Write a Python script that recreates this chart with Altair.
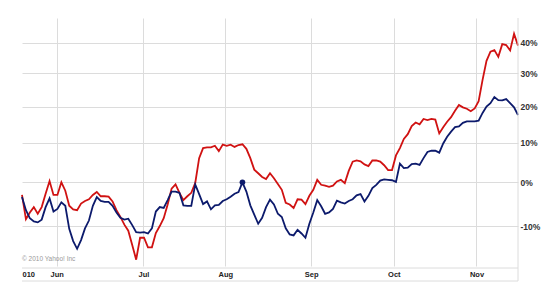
import altair as alt
import pandas as pd

# ---- data (percent change, one value per trading day) ----
days = list(range(127))
red_pct = [-3, -8.5, -7, -5.8, -7.3, -5.8, -2.7, 0.3, -3, -3,
           0, -2, -5.5, -6.3, -6.5, -5, -4.4, -4, -3, -2.3,
           -3.3, -3.3, -3.4, -4.5, -6.5, -8, -9.7, -11, -14, -17,
           -12.5, -12.5, -14.5, -14.5, -11.5, -10, -8.3, -5.2, -1.5, -0.5,
           -2.5, -4.2, -3.3, -2.5, -0.2, 6, 8.6, 8.8, 8.8, 9.2,
           7.8, 9.5, 9.2, 9.5, 8.9, 9.4, 9.6, 8.4, 6, 3.1,
           2.2, 1.3, 0.8, 2.2, 1, -0.4, -1.8, -4.8, -5.2, -6,
           -4, -4.1, -5.1, -3.2, -1.8, 0.6, -0.6, -0.8, -1.1, -0.8,
           0.2, 0.6, -0.2, 2.8, 5.1, 5.4, 5.2, 4.4, 4, 5.4,
           5.4, 5.1, 4.2, 3, 3, 6.7, 8.6, 11, 12.3, 14.5,
           15.5, 15, 16.5, 16.2, 16.5, 16.3, 12.5, 14.2, 15.7, 17,
           18.8, 20.5, 19.8, 19.4, 18.7, 19.5, 21.6, 28, 34, 37,
           37.5, 35.3, 39.5, 39.2, 37.4, 43, 39]
navy_pct = [-3.5, -6.5, -8.3, -9, -9.2, -8.6, -5.8, -3.8, -6.8, -6.2,
            -4.7, -5.5, -10.6, -13.2, -14.8, -13, -10.5, -8.8, -5.5, -3.5,
            -4.4, -4.6, -4.6, -5.5, -7, -8.2, -8.6, -8.4, -9.8, -11.3,
            -11.4, -11.3, -11.6, -10.5, -6.8, -5.8, -6, -4.2, -2.2, -2.2,
            -2.5, -5.4, -5.5, -5.5, -0.5, -2.8, -5.1, -4.5, -6.3, -5.4,
            -5.3, -4.4, -4, -3.4, -2.7, -2.3, 0, -2.2, -5.4, -7.5,
            -9.5, -8.2, -5.8, -4.1, -5.2, -7.3, -8, -10.5, -11.8, -12,
            -10.8, -11.6, -12.5, -9.5, -7, -4.2, -5.6, -7.3, -7, -6.2,
            -4.3, -4.7, -5, -4.4, -4, -3.1, -2.8, -4.5, -3.2, -1.4,
            -0.6, 0.4, 0.7, 0.6, 0.5, 0.1, 4.6, 3.5, 3.6, 4.5,
            4.6, 4.3, 6, 7.6, 7.9, 7.9, 7.4, 9.8, 11.6, 13,
            14.2, 14.4, 15.4, 15.8, 15.8, 15.8, 16, 18.2, 20, 21,
            22.8, 21.9, 21.8, 22.2, 21, 19.8, 17.6]
month_labels = ["010", "Jun", "Jul", "Aug", "Sep", "Oct", "Nov"]
month_pos = [0, 8.8, 30.85, 51.65, 73.45, 94.45, 115.45]
y_tick_pct = [-10, 0, 10, 20, 30, 40]
marker_day = 56
copyright_text = "\u00a9 2010 Yahoo! Inc"

df = pd.DataFrame({
    "day": days + days,
    "series": ["red"] * len(red_pct) + ["navy"] * len(navy_pct),
    "pct": red_pct + navy_pct,
})
df["ratio"] = 1 + df["pct"] / 100.0

RED = "#d01212"
NAVY = "#0c1a6c"
GRID = "#dcdcdc"
W, H = 496, 248
FONT = "Liberation Sans"

label_js = "[" + ",".join("'%s'" % m for m in month_labels) + "]"
pos_js = "[" + ",".join(str(p) for p in month_pos) + "]"

x_scale = alt.Scale(domain=[0, 126], nice=False, zero=False)
y_scale = alt.Scale(type="log", domain=[0.8174, 1.4857], nice=False, zero=False)

x_axis = alt.Axis(
    values=month_pos,
    labelExpr=f"{label_js}[indexof({pos_js}, datum.value)]",
    grid=True, gridColor=GRID, gridWidth=1,
    gridOpacity={"condition": {"test": "datum.value == 0", "value": 0}, "value": 1},
    labelAlign={"condition": {"test": "datum.value == 0", "value": "left"}, "value": "center"},
    domain=False, ticks=False, labelPadding=4,
    labelFont=FONT, labelFontSize=7.5, labelFontWeight="bold", labelColor="#222222",
    title=None,
)
y_axis = alt.Axis(
    orient="right",
    values=[1 + v / 100.0 for v in y_tick_pct],
    labelExpr="round((datum.value - 1) * 100) + '%'",
    grid=True, gridColor=GRID, gridWidth=1,
    domain=False, ticks=False, labelPadding=2,
    labelFont=FONT, labelFontSize=8.5, labelFontWeight="bold", labelColor="#333333",
    labelBaseline="middle",
    title=None,
)

x_enc = alt.X("day:Q", scale=x_scale, axis=x_axis)
y_enc = alt.Y("ratio:Q", scale=y_scale, axis=y_axis)

base = alt.Chart(df)
red_line = base.transform_filter("datum.series == 'red'").mark_line(
    color=RED, strokeWidth=1.8).encode(x=x_enc, y=y_enc)
navy_line = base.transform_filter("datum.series == 'navy'").mark_line(
    color=NAVY, strokeWidth=1.8).encode(x=x_enc, y=y_enc)
dot = base.transform_filter(
    f"datum.series == 'navy' && datum.day == {marker_day}"
).mark_point(filled=True, color=NAVY, size=32, opacity=1).encode(x=x_enc, y=y_enc)

deco = alt.Chart(pd.DataFrame({"a": [0]}))
band_top = deco.mark_rule(color=GRID, strokeWidth=1).encode(
    x=alt.value(0), x2=alt.value(W), y=alt.value(H + 2))
band_bottom = deco.mark_rule(color=GRID, strokeWidth=1).encode(
    x=alt.value(0), x2=alt.value(W), y=alt.value(H + 15))
right_border = deco.mark_rule(color=GRID, strokeWidth=1).encode(
    x=alt.value(W), y=alt.value(0), y2=alt.value(H + 15))
copyright = deco.mark_text(
    align="left", baseline="middle", font=FONT, fontSize=6.5, color="#9a9a9a"
).encode(x=alt.value(0), y=alt.value(H - 7), text=alt.value(copyright_text))

chart = alt.layer(
    red_line, navy_line, dot, band_top, band_bottom, right_border, copyright
).properties(
    width=W, height=H,
    autosize=alt.AutoSizeParams(type="none"),
    padding={"left": 22, "top": 18, "right": 32, "bottom": 34},
    background="white",
).configure_view(stroke=None)

chart.save("out.html", embed_options={"renderer": "svg", "actions": False})
